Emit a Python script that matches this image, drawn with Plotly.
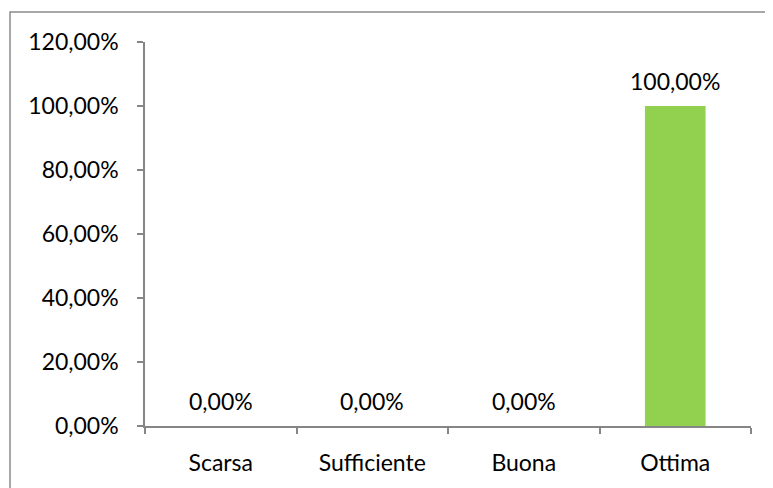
import plotly.graph_objects as go

categories = ["Scarsa", "Sufficiente", "Buona", "Ottima"]
values = [0.0, 0.0, 0.0, 1.0]
y_ticks = [0, 0.2, 0.4, 0.6, 0.8, 1.0, 1.2]

FONT = "Lato, Open Sans, sans-serif"
FS = 23
AXIS = "#868686"

fig = go.Figure()
fig.add_trace(go.Bar(x=categories, y=values, marker_color="#92D050",
                     marker_line_width=0, width=0.4, hoverinfo="skip"))

for c, v in zip(categories, values):
    fig.add_annotation(x=c, y=v, text=f"{v*100:.2f}%".replace(".", ","),
                       showarrow=False, yanchor="middle", yshift=25,
                       font=dict(family=FONT, size=FS, color="#000000"))

# page has an 8px body margin; plot area in figure coords
L, R, T, B = 137, 743, 34, 418
W, H = R - L, B - T
def px(x): return (x - L) / W
def py(y): return (B - y) / H

fig.add_shape(type="rect", xref="paper", yref="paper",
              x0=px(2), x1=px(800), y0=py(4), y1=py(520),
              line=dict(color="#8c8c8c", width=1.5), layer="below")

fig.update_layout(
    width=773, height=488,
    margin=dict(l=L, r=773 - R, t=T, b=488 - B, autoexpand=False),
    paper_bgcolor="white", plot_bgcolor="white",
    separators=",.",
    showlegend=False,
    font=dict(family=FONT, size=FS, color="#000000"),
    xaxis=dict(showline=True, linecolor=AXIS, linewidth=1.5, automargin=False,
               ticks="outside", ticklen=6, tickcolor=AXIS, tickwidth=1.5,
               tickson="boundaries", showgrid=False,
               tickfont=dict(family=FONT, size=FS, color="#000000"),
               ticklabelstandoff=16),
    yaxis=dict(range=[0, 1.2], tickvals=y_ticks, tickformat=".2%",
               automargin=False,
               showline=True, linecolor=AXIS, linewidth=1.5,
               ticks="outside", ticklen=6, tickcolor=AXIS, tickwidth=1.5,
               showgrid=False, zeroline=False,
               tickfont=dict(family=FONT, size=FS, color="#000000"),
               ticklabelstandoff=14),
)

fig.write_html("out.html")
